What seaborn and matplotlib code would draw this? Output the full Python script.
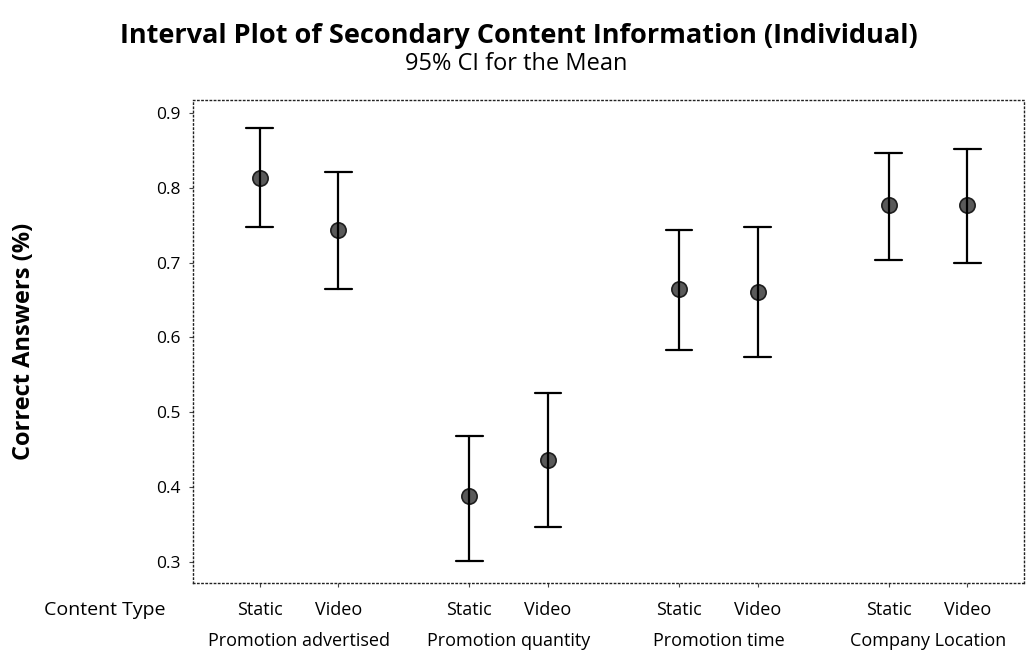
import numpy as np
import pandas as pd
import matplotlib
matplotlib.use("Agg")
import matplotlib.pyplot as plt
import seaborn as sns

# Interval summaries: mean and 95% confidence bounds
groups = ["Promotion advertised", "Promotion quantity", "Promotion time", "Company Location"]
content_types = ["Static", "Video"]
means = [0.813, 0.744, 0.388, 0.436, 0.664, 0.661, 0.777, 0.777]
lower = [0.747, 0.664, 0.301, 0.347, 0.583, 0.574, 0.703, 0.700]
upper = [0.880, 0.821, 0.468, 0.525, 0.744, 0.747, 0.847, 0.852]
y_ticks = [0.3, 0.4, 0.5, 0.6, 0.7, 0.8, 0.9]

sns.set_theme(style="white")
plt.rcParams["font.family"] = ["Open Sans", "DejaVu Sans"]
plt.rcParams["text.color"] = "black"
plt.rcParams["axes.labelcolor"] = "black"
plt.rcParams["ytick.color"] = "black"
plt.rcParams["xtick.color"] = "black"

# Category positions: pairs within a group, wider gap between groups
group_period = 2.67
rows = []
for gi, g in enumerate(groups):
    for ti, t in enumerate(content_types):
        k = gi * 2 + ti
        pos = gi * group_period + ti
        for v in (lower[k], means[k], upper[k]):
            rows.append({"group": g, "type": t, "pos": pos, "value": v})
df = pd.DataFrame(rows)

fig = plt.figure(figsize=(10.26, 6.56), dpi=100)
ax = fig.add_axes([0.188, 0.1113, 0.810, 0.7363])

sns.pointplot(
    data=df, x="pos", y="value", native_scale=True,
    estimator="median", errorbar=lambda s: (s.min(), s.max()),
    linestyle="none", color="black", capsize=0.34,
    err_kws={"linewidth": 1.6, "color": "black"},
    marker="o", markersize=11, markerfacecolor="#5a5a5a",
    markeredgecolor="#1e1e1e", markeredgewidth=1.2,
    ax=ax,
)

ax.set_xlim(-0.85, 9.73)
ax.set_ylim(0.2717, 0.9173)
ax.set_yticks(y_ticks)
ax.set_yticklabels([f"{t:.1f}" for t in y_ticks], fontsize=12.5)
ax.set_xticks(sorted(df["pos"].unique()))
ax.set_xticklabels([])
ax.set_xlabel("")
ax.set_ylabel("Correct Answers (%)", fontsize=17, fontweight="bold", labelpad=86)
ax.tick_params(axis="both", which="both", length=3, width=0.8, color="#444444",
               direction="out", left=True, bottom=True, pad=6)

for sp in ax.spines.values():
    sp.set_visible(True)
    sp.set_linestyle((0, (1, 2)))
    sp.set_linewidth(1.0)
    sp.set_color("#222222")

# Two-row categorical axis labels
trans = ax.get_xaxis_transform()
for gi, g in enumerate(groups):
    for ti, t in enumerate(content_types):
        pos = gi * group_period + ti
        ax.text(pos, -0.056, t, transform=trans, ha="center", va="center", fontsize=13)
    ax.text(gi * group_period + 0.5, -0.12, g, transform=trans, ha="center",
            va="center", fontsize=13)
fig.text(0.102, 1 - 610 / 656, "Content Type", ha="center", va="center", fontsize=14)

fig.text(0.506, 1 - 36 / 656, "Interval Plot of Secondary Content Information (Individual)",
         ha="center", va="center", fontsize=19.5, fontweight="bold")
fig.text(0.503, 1 - 64 / 656, "95% CI for the Mean", ha="center", va="center", fontsize=17)

fig.savefig("out.png", dpi=100, facecolor="white")
